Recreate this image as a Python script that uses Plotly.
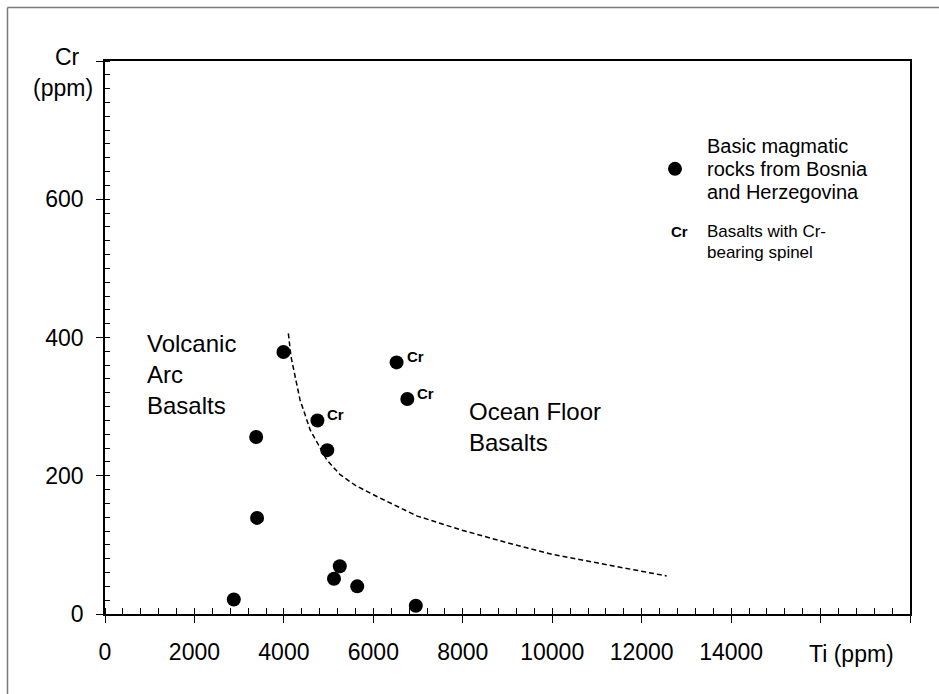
import plotly.graph_objects as go

# Sample data (Ti ppm, Cr ppm)
ti_plain = [3990, 3380, 3400, 2880, 4970, 5250, 5120, 5640, 6950]
cr_plain = [379, 256, 139, 21, 237, 69, 51, 40, 12]

ti_crsp = [4750, 6520, 6760]
cr_crsp = [280, 364, 311]

# Discrimination boundary (dashed)
line_ti = [4100, 4160, 4360, 4590, 4960, 5250, 5600, 6080, 6970, 7940, 9000, 10020, 11000, 11810, 12560]
line_cr = [406, 372, 310, 266, 223, 202, 186, 170, 142, 122, 103, 86, 74, 64, 55]

# Legend sample marker
leg_ti = [12745]
leg_cr = [644]

xtick_vals = list(range(0, 18001, 2000))
xtick_text = ["0", "2000", "4000", "6000", "8000", "10000", "12000", "14000", "", ""]
ytick_vals = [0, 200, 400, 600, 800]
ytick_text = ["0", "200", "400", "600", ""]

FONT = "Liberation Sans, Arial, sans-serif"

fig = go.Figure()
fig.add_trace(go.Scatter(x=line_ti, y=line_cr, mode="lines",
                         line=dict(color="black", width=1.5, dash="5px,3px"),
                         showlegend=False, hoverinfo="skip"))
fig.add_trace(go.Scatter(x=ti_plain + ti_crsp, y=cr_plain + cr_crsp, mode="markers",
                         marker=dict(color="black", size=14), showlegend=False))
fig.add_trace(go.Scatter(x=leg_ti, y=leg_cr, mode="markers",
                         marker=dict(color="black", size=14), showlegend=False))

ann = []
for x, y in zip(ti_crsp, cr_crsp):
    ann.append(dict(x=x, y=y, text="<b>Cr</b>", showarrow=False, xanchor="left",
                    yanchor="middle", xshift=8, yshift=6, font=dict(size=15)))

ann += [
    dict(x=900, y=346, text="Volcanic<br>Arc<br>Basalts", xanchor="left", yanchor="middle",
         align="left", showarrow=False, font=dict(size=24)),
    dict(x=8100, y=270, text="Ocean Floor<br>Basalts", xanchor="left", yanchor="middle",
         align="left", showarrow=False, font=dict(size=24)),
    dict(x=13416, y=677, text="Basic magmatic", xanchor="left", yanchor="middle",
         showarrow=False, font=dict(size=20)),
    dict(x=13416, y=644, text="rocks from Bosnia", xanchor="left", yanchor="middle",
         showarrow=False, font=dict(size=20)),
    dict(x=13416, y=611, text="and Herzegovina", xanchor="left", yanchor="middle",
         showarrow=False, font=dict(size=20)),
    dict(x=12857, y=554, text="<b>Cr</b>", xanchor="center", yanchor="middle",
         showarrow=False, font=dict(size=15)),
    dict(x=13416, y=554, text="Basalts with Cr-", xanchor="left", yanchor="middle",
         showarrow=False, font=dict(size=17)),
    dict(x=13416, y=523, text="bearing spinel", xanchor="left", yanchor="middle",
         showarrow=False, font=dict(size=17)),
    dict(x=16700, y=0, text="Ti (ppm)", xanchor="center", yanchor="top", yshift=-25,
         showarrow=False, font=dict(size=23)),
    dict(x=0, y=800, text="Cr", xanchor="center", yanchor="middle", xshift=-38, yshift=4,
         showarrow=False, font=dict(size=23)),
    dict(x=0, y=800, text="(ppm)", xanchor="center", yanchor="middle", xshift=-42, yshift=-27,
         showarrow=False, font=dict(size=23)),
]

# outer frame (decoration)
L, T, W, H = 105, 61, 805, 553
def px2paper_x(px):
    return (px - L) / W
def px2paper_y(py):
    return 1 + (T - py) / H

shapes = [
    dict(type="line", xref="paper", yref="paper",
         x0=px2paper_x(7.5), x1=px2paper_x(7.5), y0=px2paper_y(700), y1=px2paper_y(7.5),
         line=dict(color="#7a7a7a", width=1.5)),
    dict(type="line", xref="paper", yref="paper",
         x0=px2paper_x(7.5), x1=px2paper_x(945), y0=px2paper_y(7.5), y1=px2paper_y(7.5),
         line=dict(color="#7a7a7a", width=1.5)),
]

fig.update_layout(
    width=939, height=694,
    margin=dict(l=L, r=939 - L - W, t=T, b=694 - T - H),
    paper_bgcolor="white", plot_bgcolor="white",
    font=dict(family=FONT, color="black"),
    annotations=ann, shapes=shapes, showlegend=False,
)
fig.update_xaxes(range=[0, 18000], tickvals=xtick_vals, ticktext=xtick_text,
                 showgrid=False, zeroline=False, showline=True, linecolor="black", linewidth=1.5,
                 mirror=True, ticks="outside", ticklen=7, tickwidth=1.2, tickcolor="black",
                 tickfont=dict(size=23), ticklabelstandoff=10,
                 minor=dict(dtick=400, tick0=0, ticks="inside", ticklen=6, tickwidth=1, tickcolor="black"))
fig.update_yaxes(range=[0, 800], tickvals=ytick_vals, ticktext=ytick_text,
                 showgrid=False, zeroline=False, showline=True, linecolor="black", linewidth=1.5,
                 mirror=True, ticks="outside", ticklen=7, tickwidth=1.2, tickcolor="black",
                 tickfont=dict(size=23), ticklabelstandoff=8,
                 minor=dict(dtick=20, tick0=0, ticks="inside", ticklen=5, tickwidth=1, tickcolor="black"))

fig.write_html("out.html")
